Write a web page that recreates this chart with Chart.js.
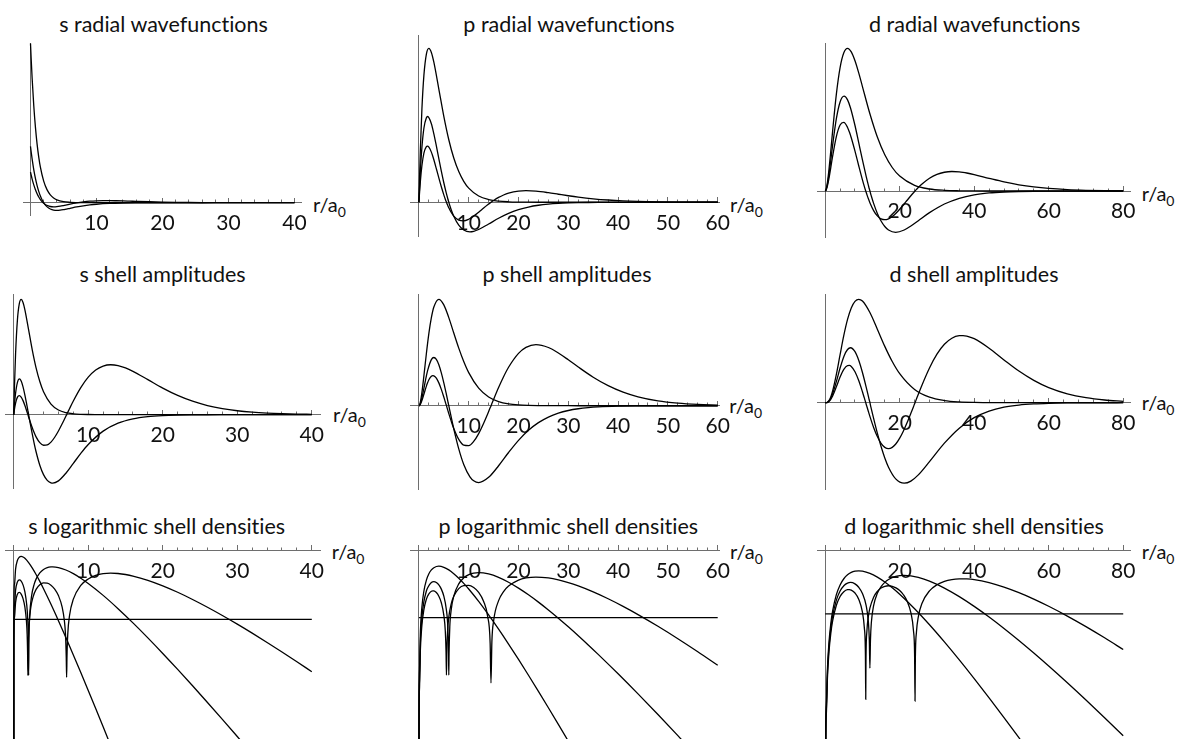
<!DOCTYPE html>
<html>
<head>
<meta charset="utf-8">
<title>Hydrogen radial functions</title>
<script src="https://cdn.jsdelivr.net/npm/chart.js@4.4.1/dist/chart.umd.min.js"></script>
<style>
  html, body { margin: 0; padding: 0; background: #fff; }
  body { position: relative; width: 1180px; height: 739px; overflow: hidden; font-family: Lato, "Noto Sans", sans-serif; color: #111; font-variant-ligatures: none; }
  canvas { position: absolute; }
  .title { position: absolute; font-size: 21.5px; white-space: nowrap; transform: translate(-50%, -50%); line-height: 1; }
  .axl { position: absolute; font-size: 20px; white-space: nowrap; transform: translateY(-50%); line-height: 1; }
  .axl .sb { font-size: 14px; position: relative; top: 5px; }
</style>
</head>
<body>
<div class="title" style="left:163.5px;top:25px">s radial wavefunctions</div>
<div class="title" style="left:569px;top:25px">p radial wavefunctions</div>
<div class="title" style="left:974.7px;top:25px">d radial wavefunctions</div>
<div class="title" style="left:162.5px;top:275px">s shell amplitudes</div>
<div class="title" style="left:567px;top:275px">p shell amplitudes</div>
<div class="title" style="left:974px;top:275px">d shell amplitudes</div>
<div class="title" style="left:156.7px;top:526.7px">s logarithmic shell densities</div>
<div class="title" style="left:568.3px;top:526.7px">p logarithmic shell densities</div>
<div class="title" style="left:974px;top:526.7px">d logarithmic shell densities</div>

<div class="axl" style="left:313px;top:204px">r/a<span class="sb">0</span></div>
<div class="axl" style="left:730px;top:204px">r/a<span class="sb">0</span></div>
<div class="axl" style="left:1141.7px;top:193px">r/a<span class="sb">0</span></div>
<div class="axl" style="left:333px;top:414px">r/a<span class="sb">0</span></div>
<div class="axl" style="left:729.3px;top:405px">r/a<span class="sb">0</span></div>
<div class="axl" style="left:1141.7px;top:402px">r/a<span class="sb">0</span></div>
<div class="axl" style="left:331.7px;top:551px">r/a<span class="sb">0</span></div>
<div class="axl" style="left:730px;top:551px">r/a<span class="sb">0</span></div>
<div class="axl" style="left:1141.7px;top:551px">r/a<span class="sb">0</span></div>

<script>
// Hydrogen radial wavefunctions R(r), r in units of a0 (Z = 1).
// Each state: sample radii and R at those radii.

// ---- s states ----
const r1s = [0,0.02,0.1,0.25,0.5,0.75,1,1.25,1.5,2,2.5,3,3.5,4,5,6,7,8,9,10,11,12,13,14,16,20,30,40];
const R1s = [2,1.960397,1.809675,1.557602,1.213061,0.944733,0.735759,0.573010,0.446260,0.270671,0.164170,0.099574,0.060395,0.036631,0.013476,0.0049575,1.8238e-3,6.7093e-4,2.4682e-4,9.0800e-5,3.3403e-5,1.2288e-5,4.5206e-6,1.6631e-6,2.2507e-7,4.1223e-9,1.8715e-13,8.4968e-18];

const r2s = [0,0.02,0.1,0.25,0.5,0.764,1,1.25,1.5,1.75,1.85,1.95,2,2.05,2.15,2.4,2.75,3,3.5,4,4.5,5,5.236,6,7,8,9,10,12,14,16,18,20,22,24,26,28,30,32,35,40];
const R2s = [0.707107,0.693051,0.638989,0.546017,0.413022,0.298245,0.214441,0.141932,0.083504,0.036846,0.021029,0.0066680,0.00097,-0.0063427,-0.018100,-0.042595,-0.067044,-0.078889,-0.092157,-0.095696,-0.093161,-0.087064,-0.083451,-0.070410,-0.053382,-0.038854,-0.027494,-0.019058,-0.0087637,-0.0038688,-0.0016604,-6.9811e-4,-2.8892e-4,-1.1810e-4,-4.7791e-5,-1.9179e-5,-7.6438e-6,-3.0283e-6,-1.1937e-6,-2.9297e-7,-2.7692e-8];

const r3s = [0,0.02,0.1,0.25,0.5,0.75,1,1.25,1.5,1.7,1.8,1.86,1.902,1.95,2.05,2.3,2.6,3,3.5,4,4.5,5,5.5,6,6.5,6.8,6.95,7.05,7.098,7.15,7.25,7.5,8,9,10,11,12,13,14,15,16,18,20,22,24,26,28,30,32,34,36,38,40];
const R3s = [0.384900,0.377256,0.347738,0.296744,0.223242,0.162371,0.112360,0.071658,0.038909,0.017634,0.0084496,0.0033681,0.00101,-0.0036838,-0.010761,-0.025298,-0.037632,-0.047199,-0.051051,-0.048850,-0.042941,-0.035003,-0.026211,-0.017364,-0.0089820,-0.0043149,-0.0021014,-6.7296e-4,-2.47e-4,7.1665e-4,0.0020668,0.0052658,0.010896,0.019163,0.023902,0.025872,0.025849,0.024509,0.022387,0.019883,0.017275,0.012403,0.0084721,0.0055794,0.0035723,0.0022368,0.0013753,8.3296e-4,4.9810e-4,2.9462e-4,1.7264e-4,1.0033e-4,5.7882e-5];

// ---- p states ----
const r2p = [0,0.03,0.1,0.3,0.6,1,1.5,2,2.5,3,4,5,6,7,8,9,10,12,14,16,18,20,22,24,26,28,30,32,36,40,50,60];
const R2p = [0,0.0060326,0.019417,0.052707,0.090731,0.123808,0.144632,0.150186,0.146206,0.136639,0.110500,0.083778,0.060976,0.043148,0.029910,0.020409,0.013754,0.0060718,0.0026059,0.0010956,4.5344e-4,1.8535e-4,7.5004e-5,3.0100e-5,1.1996e-5,4.7526e-6,1.8733e-6,7.3511e-7,1.1192e-7,1.6830e-8,1.4174e-10,1.1461e-12];

const r3p = [0,0.03,0.1,0.3,0.6,1,1.5,1.757,2.5,3,3.5,4,4.5,5,5.5,5.8,5.95,6,6.05,6.2,6.5,7,8,9,10.243,11,12,14,16,18,20,22,24,26,28,30,32,34,36,40,44,48,52,56,60];
const R3p = [0,0.0035748,0.011505,0.031194,0.053479,0.072228,0.082538,0.083671,0.076664,0.066749,0.054932,0.042514,0.030364,0.019039,0.0088638,0.0033830,8.2530e-4,2.77e-4,-8.1178e-4,-0.0031654,-0.0075060,-0.013685,-0.022413,-0.027101,-0.028833,-0.028343,-0.026587,-0.021233,-0.015574,-0.010794,-0.0071843,-0.0046367,-0.0029216,-0.0018056,-0.0010982,-6.5900e-4,-3.9097e-4,-2.2968e-4,-1.3378e-4,-4.4406e-5,-1.4391e-5,-4.5738e-6,-1.4305e-6,-4.4139e-7,-1.3464e-7];

const r4p = [0,0.03,0.1,0.3,0.6,1,1.5,1.7,2,2.5,2.8,3,3.5,4,4.5,5,5.3,5.45,5.528,5.6,5.75,6,6.5,7,8,9,10,11,12,13,13.8,14.3,14.472,14.65,15,16,17,18,20,21.5,23.5,26,28,30,32,35,38,41,44,48,52,56,60];
const R4p = [0,0.0023845,0.0076737,0.020798,0.035606,0.047915,0.054329,0.054804,0.053833,0.048925,0.044652,0.041449,0.032742,0.023747,0.015103,0.0072241,0.0029696,9.8863e-4,3.0e-4,-8.9142e-4,-0.0026689,-0.0054011,-0.010005,-0.013496,-0.017472,-0.018178,-0.016558,-0.013476,-0.0096412,-0.0055922,-0.0024567,-6.1014e-4,-7.7e-5,6.1535e-4,0.0017790,0.0047291,0.0070926,0.0088739,0.010873,0.011272,0.010802,0.0093043,0.0078286,0.0063593,0.0050237,0.0033842,0.0021918,0.0013759,8.4203e-4,4.2358e-4,2.0675e-4,9.8439e-5,4.5909e-5];

// ---- d states ----
const r3d = [0,0.15,0.3,0.6,1,1.5,2,3,4,5,6,7,8,9,10,12,14,16,18,20,24,28,32,36,40,44,48,52,56,60,70,80];
const R3d = [0,1.9297e-4,7.3422e-4,0.0026574,0.0064603,0.012304,0.018516,0.029851,0.038026,0.042573,0.043927,0.042841,0.040093,0.036359,0.032164,0.023780,0.016618,0.011143,0.0072410,0.0045899,0.0017421,6.2505e-4,2.1520e-4,7.1794e-5,2.3363e-5,7.4519e-6,2.3377e-6,7.2317e-7,2.2108e-7,6.6902e-8,3.2484e-9,1.5136e-10];

const r4d = [0,0.15,0.3,0.6,1,1.5,2,3,4,5.072,6,6.8,8,9,10,11,11.6,11.85,12,12.15,12.4,13,14,15,16,17,18.928,21.21,23,25,28,32,36,40,44,48,52,56,60,65,70,75,80];
const R4d = [0,1.4954e-4,5.6886e-4,0.0020569,0.0049885,0.0094550,0.014128,0.022280,0.027420,0.029203,0.028065,0.025578,0.020175,0.014914,0.0095598,0.0045043,0.0017245,6.3400e-4,1.38e-4,-6.1835e-4,-0.0016134,-0.0038157,-0.0068929,-0.0092440,-0.010922,-0.012002,-0.012733,-0.012008,-0.010785,-0.0091337,-0.0066608,-0.0040006,-0.0022352,-0.0011844,-6.0253e-4,-2.9676e-4,-1.4236e-4,-6.6813e-5,-3.0781e-5,-1.1428e-5,-4.1555e-6,-1.4832e-6,-5.2235e-7];

const r5d = [0,0.15,0.3,0.6,1,1.5,2,3,4,5,6,6.5,7,8,9,10,10.5,10.8,10.886,10.95,11.2,11.6,12,13,14,15,16,17,18,19,20,21,22,23,23.7,24,24.114,24.2,24.5,25,26,28,30,32,34,36,37,38,40,44,48,52,56,60,65,70,75,80];
const R5d = [0,1.1459e-4,4.3585e-4,0.0015752,0.0038161,0.0072166,0.010747,0.016776,0.020311,0.021106,0.019575,0.018144,0.016391,0.012257,0.0077840,0.0034508,0.0014458,3.1282e-4,2.79e-5,-2.3202e-4,-0.0011060,-0.0024115,-0.0035974,-0.0060171,-0.0076585,-0.0085689,-0.0088337,-0.0085582,-0.0078554,-0.0068365,-0.0056043,-0.0042493,-0.0028484,-0.0014643,-5.3167e-4,-1.4504e-4,-1.14e-5,1.0719e-4,4.7868e-4,0.0010738,0.0021680,0.0039327,0.0051196,0.0057787,0.0060013,0.0058915,0.0057439,0.0055500,0.0050637,0.0039198,0.0028218,0.0019245,0.0012616,7.9523e-4,4.3100e-4,2.2545e-4,1.1451e-4,5.6747e-5];

// ---- axis tick labels ----
const sTickLabels = [10, 20, 30, 40];
const pTickLabels = [10, 20, 30, 40, 50, 60];
const dTickLabels = [20, 40, 60, 80];

// reference density level drawn on the logarithmic panels (log10 of 10^-3)
const densityLevel = -3;

// ---------------------------------------------------------------------------
const AXIS = '#6e6e6e';
const INK = '#000';
const LOG_FLOOR = -40;
Chart.defaults.font.family = 'Lato, "Noto Sans", sans-serif';

const columns = {
  s: { states: [[r1s, R1s], [r2s, R2s], [r3s, R3s]], minor: 2, major: 10, labels: sTickLabels, rEnd: 40 },
  p: { states: [[r2p, R2p], [r3p, R3p], [r4p, R4p]], minor: 2, major: 10, labels: pTickLabels, rEnd: 60 },
  d: { states: [[r3d, R3d], [r4d, R4d], [r5d, R5d]], minor: 4, major: 20, labels: dTickLabels, rEnd: 80 }
};

// row 1: R(r); row 2: shell amplitude r R(r); row 3: log10 of shell density (r R)^2
function series(rs, Rs, row) {
  return rs.map((r, i) => {
    const R = Rs[i];
    if (row === 1) return { x: r, y: R };
    const u = r * R;
    if (row === 2) return { x: r, y: u };
    return { x: r, y: u === 0 ? LOG_FLOOR : Math.log10(u * u) };
  });
}

// canvas box [left, top, width, height] and plot area [left, top, right, bottom] in page pixels
const panels = [
  { col: 's', row: 1, box: [0, 0, 390, 250],     area: [23.3, 43.3, 301.7, 215],    x: [-1.09, 41.09], y: [-0.154, 2.0] },
  { col: 'p', row: 1, box: [390, 0, 390, 250],   area: [410.7, 35, 719, 236.7],     x: [-1.65, 60.26], y: [-0.0336, 0.1632] },
  { col: 'd', row: 1, box: [780, 0, 400, 250],   area: [817.7, 43.3, 1130.7, 237.3], x: [-2.01, 82.01], y: [-0.01425, 0.04548] },
  { col: 's', row: 2, box: [0, 250, 390, 250],   area: [5, 294, 320, 488.3],        x: [-1.17, 41.1],  y: [-0.470, 0.770] },
  { col: 'p', row: 2, box: [390, 250, 390, 250], area: [410.7, 294, 719, 489.3],    x: [-1.65, 60.26], y: [-0.347, 0.464] },
  { col: 'd', row: 2, box: [780, 250, 400, 250], area: [817.7, 294, 1130.7, 489.3], x: [-2.01, 82.01], y: [-0.274, 0.344] },
  { col: 's', row: 3, box: [0, 490, 390, 260],   area: [5, 545, 320, 739],          x: [-1.17, 41.1],  y: [-8.19, 0.23] },
  { col: 'p', row: 3, box: [390, 490, 390, 260], area: [410.7, 545, 719, 739],      x: [-1.65, 60.26], y: [-8.405, 0.236] },
  { col: 'd', row: 3, box: [780, 490, 400, 260], area: [817.7, 545, 1130.7, 739],   x: [-2.01, 82.01], y: [-8.91, 0.25] }
];

const hideZeroTick = (c) => (c.tick && c.tick.value === 0) ? 'rgba(0,0,0,0)' : AXIS;
const noPadding = (scale) => { scale.paddingLeft = 0; scale.paddingRight = 0; scale.paddingTop = 0; scale.paddingBottom = 0; };

panels.forEach((p) => {
  const col = columns[p.col];
  const [bl, bt, bw, bh] = p.box;
  const [al, at, ar, ab] = p.area;

  const canvas = document.createElement('canvas');
  canvas.width = bw;
  canvas.height = bh;
  canvas.style.left = bl + 'px';
  canvas.style.top = bt + 'px';
  document.body.appendChild(canvas);

  const datasets = col.states.map(([rs, Rs]) => ({
    data: series(rs, Rs, p.row),
    borderColor: INK,
    borderWidth: 1.3,
    pointRadius: 0,
    fill: false,
    cubicInterpolationMode: 'monotone'
  }));
  if (p.row === 3) {
    datasets.push({
      data: [{ x: 0, y: densityLevel }, { x: col.rEnd, y: densityLevel }],
      borderColor: INK,
      borderWidth: 1.1,
      pointRadius: 0,
      fill: false
    });
  }

  new Chart(canvas, {
    type: 'line',
    data: { datasets },
    options: {
      responsive: false,
      animation: false,
      events: [],
      devicePixelRatio: 1,
      layout: { padding: { left: al - bl, top: at - bt, right: bl + bw - ar, bottom: bt + bh - ab } },
      plugins: { legend: { display: false }, title: { display: false }, tooltip: { enabled: false } },
      scales: {
        x: {
          type: 'linear', min: p.x[0], max: p.x[1], position: { y: 0 },
          ticks: { display: false, stepSize: col.minor, includeBounds: false, autoSkip: false },
          grid: { drawOnChartArea: false, drawTicks: true, tickLength: -3.5, tickColor: hideZeroTick, tickWidth: 1 },
          border: { display: true, color: AXIS, width: 1 },
          afterFit: noPadding
        },
        x2: {
          type: 'linear', axis: 'x', min: p.x[0], max: p.x[1], position: { y: 0 },
          ticks: {
            stepSize: col.major, includeBounds: false, autoSkip: false, maxRotation: 0, minRotation: 0,
            padding: 13, color: '#111', font: { size: 21 },
            callback: (v) => col.labels.includes(v) ? String(v) : ''
          },
          grid: { drawOnChartArea: false, drawTicks: true, tickLength: -5, tickColor: hideZeroTick, tickWidth: 1 },
          border: { display: false },
          afterFit: noPadding
        },
        y: {
          type: 'linear', min: p.y[0], max: p.y[1], position: { x: 0 },
          ticks: { display: false },
          grid: { display: false },
          border: { display: true, color: AXIS, width: 1 },
          afterFit: noPadding
        }
      }
    }
  });
});
</script>
</body>
</html>
